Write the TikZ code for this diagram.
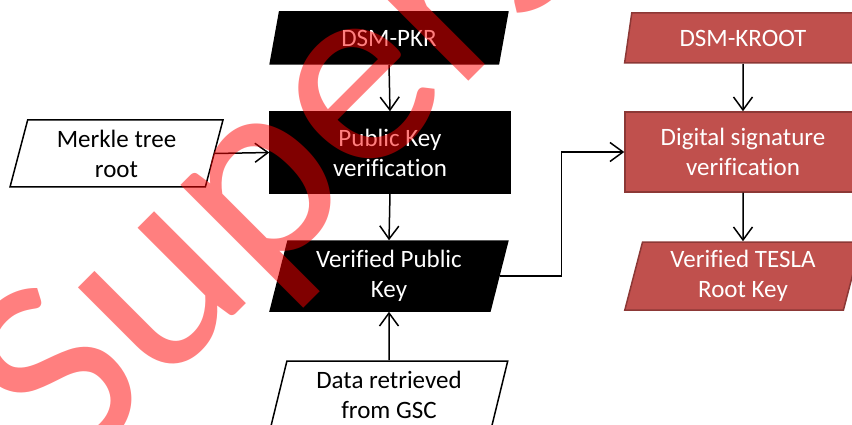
\documentclass[tikz,border=0pt]{standalone}
\usepackage{fontspec}
\setmainfont{Carlito}[Ligatures=NoCommon]
\usetikzlibrary{shapes.geometric,arrows.meta}
\definecolor{boxred}{HTML}{C0504D}
\definecolor{edgered}{HTML}{8C3836}
\begin{document}
\begin{tikzpicture}[x=1pt,y=-1pt,
  base/.style={align=center, inner sep=0pt, line width=1.5pt, font=\fontsize{25}{30}\selectfont},
  para/.style={base, trapezium, trapezium left angle=76, trapezium right angle=104,
    trapezium stretches=true},
  rect/.style={base, rectangle},
  blackbox/.style={fill=black, draw=black, text=white},
  whitebox/.style={fill=white, draw=black, text=black},
  redbox/.style={fill=boxred, draw=edgered, text=white},
  arr/.style={-{Straight Barb[length=13pt,width=19pt]}, line width=1.5pt, draw=black}
]
\useasboundingbox (0,0) rectangle (852,425);
% left column
\node[para, blackbox, minimum width=238pt, minimum height=52pt] (pkr) at (389,38) {DSM-PKR};
\node[rect, blackbox, minimum width=240pt, minimum height=81pt] (pkv) at (390,152.5) {Public Key\\verification};
\node[para, whitebox, minimum width=213pt, minimum height=67pt] (mk) at (116.5,153.5) {Merkle tree\\root};
\node[para, blackbox, minimum width=238pt, minimum height=70pt] (vpk) at (389,276) {Verified Public\\Key};
\node[para, whitebox, minimum width=238pt, minimum height=68pt] (gsc) at (389,395) {Data retrieved\\from GSC};
% right column
\node[para, redbox, minimum width=237pt, minimum height=50pt] (kroot) at (743,38) {DSM-KROOT};
\node[rect, redbox, minimum width=236pt, minimum height=80pt] (dsv) at (743,152) {Digital signature\\verification};
\node[para, redbox, minimum width=237pt, minimum height=68pt] (vtrk) at (743,276) {Verified TESLA\\Root Key};
% connectors
\draw[arr] (pkr.south) -- (pkv.north);
\draw[arr] (mk.east) -- (pkv.west);
\draw[arr] (pkv.south) -- (vpk.north);
\draw[arr] (gsc.north) -- (vpk.south);
\draw[arr] (vpk.east) -- ++(62,0) |- (dsv.west);
\draw[arr] (kroot.south) -- (dsv.north);
\draw[arr] (dsv.south) -- (vtrk.north);
% watermark
\node[rotate=45, anchor=base west, inner sep=0pt, text=red, opacity=0.5,
  font=\fontsize{272}{272}\selectfont] (wm) at (70,480) {Superseded};
\end{tikzpicture}
\end{document}
